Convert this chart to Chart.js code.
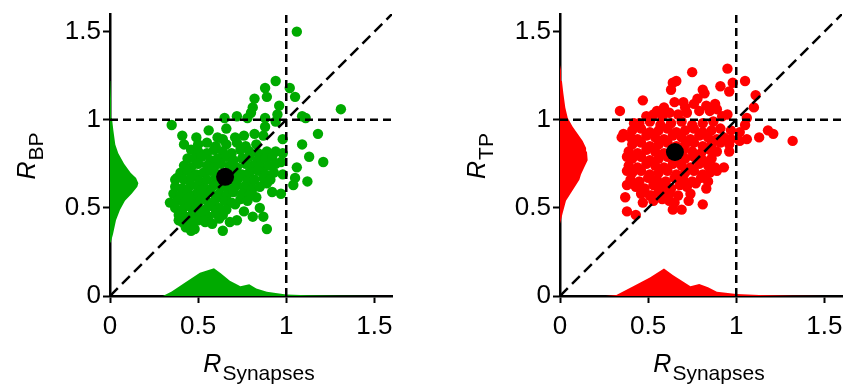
<!DOCTYPE html>
<html>
<head>
<meta charset="utf-8">
<title>R ratios vs synapses</title>
<script src="https://cdn.jsdelivr.net/npm/chart.js@4.4.0/dist/chart.umd.min.js"></script>
<style>
    html, body { margin: 0; padding: 0; background: #fff; }
    #wrap { position: relative; width: 852px; height: 389px; overflow: hidden; }
    canvas { position: absolute; top: 0; }
    #bpChart { left: 0; }
    #tpChart { left: 450px; }
</style>
</head>
<body>
<div id="wrap">
    <canvas id="bpChart" width="450" height="389"></canvas>
    <canvas id="tpChart" width="402" height="389"></canvas>
</div>
<script>
// axes
const AXIS_TICKS = [0, 0.5, 1, 1.5];
const AXIS_MAX = 1.6;
const X_TITLE_SUB = 'Synapses';

// reference lines (x, y)
const UNITY_H = [[0, 1], [1.6, 1]];
const UNITY_V = [[1, 0], [1, 1.6]];
const DIAGONAL = [[0, 0], [1.6, 1.6]];

// R_BP panel: [R_Synapses, R_BP]
const BP_MEAN = [[0.653, 0.676]];
const BP_POINTS = [
    [1.06, 1.50], [0.94, 1.22], [0.88, 1.18], [0.89, 1.13], [0.82, 1.12], [1.02, 1.18], [1.05, 1.13],
    [0.96, 1.08], [0.81, 1.07], [0.80, 1.04], [1.31, 1.06], [0.72, 1.02], [0.65, 1.01], [0.78, 1.01],
    [0.88, 1.01], [0.95, 1.03], [0.94, 0.99], [1.09, 1.02], [1.11, 1.01], [0.35, 0.97], [0.66, 0.95],
    [0.56, 0.94], [0.88, 0.96], [0.41, 0.91], [0.49, 0.90], [0.61, 0.90], [0.64, 0.89], [0.71, 0.90],
    [0.76, 0.91], [0.82, 0.92], [0.87, 0.91], [1.18, 0.92], [0.98, 0.89], [0.42, 0.86], [1.09, 0.86],
    [0.46, 0.83], [1.13, 0.79], [1.21, 0.76], [0.94, 0.82], [0.98, 0.81], [0.44, 0.78], [0.97, 0.76],
    [1.06, 0.73], [1.05, 0.67], [1.12, 0.65], [1.04, 0.63], [0.98, 0.69], [0.92, 0.59], [0.97, 0.58],
    [0.34, 0.53], [0.37, 0.66], [0.38, 0.67], [0.39, 0.43], [0.46, 0.37], [0.64, 0.37], [0.89, 0.38],
    [0.81, 0.45], [0.87, 0.45], [0.85, 0.50], [0.76, 0.48], [0.72, 0.43], [0.68, 0.42], [0.71, 0.52],
    [0.83, 0.56], [0.81, 0.61], [0.89, 0.64],
    [0.50, 0.86], [0.55, 0.87], [0.60, 0.85], [0.66, 0.86], [0.72, 0.87], [0.77, 0.85], [0.83, 0.86],
    [0.50, 0.82], [0.55, 0.81], [0.59, 0.83], [0.64, 0.82], [0.69, 0.81], [0.74, 0.83], [0.79, 0.82], [0.84, 0.81], [0.89, 0.82],
    [0.48, 0.78], [0.52, 0.79], [0.57, 0.77], [0.61, 0.78], [0.66, 0.79], [0.70, 0.77], [0.75, 0.78], [0.79, 0.79], [0.84, 0.77], [0.88, 0.78], [0.92, 0.79],
    [0.42, 0.74], [0.46, 0.73], [0.50, 0.75], [0.55, 0.74], [0.59, 0.73], [0.63, 0.75], [0.68, 0.74], [0.72, 0.73], [0.77, 0.75], [0.81, 0.74], [0.86, 0.73], [0.90, 0.74], [0.94, 0.75],
    [0.40, 0.70], [0.44, 0.71], [0.49, 0.69], [0.53, 0.70], [0.57, 0.71], [0.62, 0.69], [0.66, 0.70], [0.70, 0.71], [0.75, 0.69], [0.79, 0.70], [0.84, 0.71], [0.88, 0.69], [0.93, 0.70],
    [0.42, 0.66], [0.46, 0.67], [0.51, 0.65], [0.55, 0.66], [0.60, 0.67], [0.64, 0.65], [0.69, 0.66], [0.73, 0.67], [0.78, 0.65], [0.82, 0.66], [0.87, 0.67], [0.91, 0.66],
    [0.37, 0.62], [0.41, 0.61], [0.46, 0.63], [0.50, 0.62], [0.54, 0.61], [0.59, 0.63], [0.63, 0.62], [0.67, 0.61], [0.72, 0.63], [0.76, 0.62], [0.80, 0.60], [0.85, 0.62],
    [0.36, 0.58], [0.40, 0.57], [0.44, 0.59], [0.49, 0.58], [0.53, 0.57], [0.57, 0.59], [0.62, 0.58], [0.66, 0.57], [0.70, 0.59], [0.75, 0.58], [0.79, 0.57],
    [0.38, 0.54], [0.42, 0.53], [0.47, 0.55], [0.51, 0.54], [0.56, 0.53], [0.60, 0.55], [0.65, 0.54], [0.69, 0.53], [0.74, 0.55], [0.78, 0.54],
    [0.37, 0.50], [0.41, 0.49], [0.45, 0.51], [0.49, 0.50], [0.54, 0.49], [0.58, 0.51], [0.62, 0.50], [0.66, 0.49],
    [0.39, 0.46], [0.43, 0.45], [0.47, 0.47], [0.51, 0.46], [0.56, 0.45], [0.60, 0.47], [0.64, 0.46],
    [0.41, 0.42], [0.45, 0.41], [0.50, 0.43], [0.54, 0.42], [0.58, 0.41],
    [0.43, 0.39], [0.48, 0.38], [0.47, 0.43], [0.52, 0.48], [0.45, 0.56], [0.52, 0.60], [0.62, 0.44]
];
// marginal densities, R_BP panel
const BP_XDENS_X = [0.30, 0.35, 0.42, 0.51, 0.59, 0.63, 0.68, 0.74, 0.79, 0.83, 0.89, 0.93, 1.00, 1.12, 1.30, 1.50];
const BP_XDENS_D = [0, 0.025, 0.072, 0.132, 0.158, 0.128, 0.087, 0.056, 0.066, 0.043, 0.024, 0.019, 0.008, 0.004, 0.002, 0];
const BP_YDENS_Y = [0.30, 0.31, 0.35, 0.43, 0.49, 0.54, 0.58, 0.62, 0.64, 0.67, 0.70, 0.75, 0.81, 0.86, 0.94, 1.01, 1.11, 1.22, 1.30];
const BP_YDENS_D = [0, 0.006, 0.017, 0.034, 0.057, 0.085, 0.123, 0.155, 0.161, 0.148, 0.117, 0.080, 0.047, 0.030, 0.019, 0.011, 0.006, 0.002, 0];

// R_TP panel: [R_Synapses, R_TP]
const TP_MEAN = [[0.652, 0.817]];
const TP_POINTS = [
    [0.75, 1.27], [0.95, 1.29], [0.66, 1.22], [0.64, 1.21], [0.63, 1.17], [0.65, 1.10], [0.47, 1.11],
    [0.34, 1.05], [0.49, 1.02], [0.98, 1.21], [1.05, 1.22], [0.91, 1.19], [0.96, 1.16], [0.81, 1.17],
    [0.82, 1.15], [0.78, 1.12], [0.76, 1.09], [0.71, 1.07], [0.59, 1.07], [0.88, 1.09], [0.89, 1.06],
    [0.85, 1.05], [0.95, 1.03], [1.11, 1.14], [1.10, 1.07], [1.06, 1.01], [1.05, 0.97], [1.06, 0.89],
    [1.13, 0.90], [1.18, 0.94], [1.21, 0.92], [1.32, 0.88], [1.02, 0.93], [0.97, 0.94], [0.97, 0.89],
    [0.96, 0.82], [1.02, 0.88], [0.96, 0.86], [0.36, 0.92], [0.35, 0.90], [0.42, 0.98], [0.38, 0.79],
    [0.38, 0.71], [0.38, 0.63], [0.37, 0.56], [0.38, 0.48], [0.43, 0.46], [0.47, 0.53], [0.52, 0.57],
    [0.64, 0.49], [0.69, 0.49], [0.73, 0.54], [0.81, 0.52], [0.83, 0.61], [0.84, 0.65], [0.89, 0.71],
    [0.93, 0.73], [0.77, 0.64], [0.74, 0.58], [0.62, 0.58], [0.65, 0.53],
    [0.53, 1.03], [0.58, 1.02], [0.62, 1.04], [0.67, 1.03], [0.72, 1.04], [0.79, 1.05], [0.83, 1.08],
    [0.70, 1.10], [0.55, 1.05], [0.92, 1.02],
    [0.45, 0.98], [0.51, 0.99], [0.57, 0.97], [0.63, 0.98], [0.69, 0.99], [0.75, 0.97], [0.81, 0.98], [0.87, 0.99],
    [0.41, 0.94], [0.46, 0.95], [0.51, 0.93], [0.56, 0.94], [0.61, 0.95], [0.66, 0.93], [0.71, 0.94], [0.76, 0.95], [0.81, 0.93], [0.86, 0.94], [0.91, 0.95],
    [0.40, 0.90], [0.44, 0.89], [0.49, 0.91], [0.54, 0.90], [0.59, 0.89], [0.64, 0.91], [0.69, 0.90], [0.74, 0.89], [0.79, 0.91], [0.84, 0.90], [0.89, 0.89], [0.93, 0.90],
    [0.41, 0.86], [0.46, 0.87], [0.51, 0.85], [0.56, 0.86], [0.61, 0.87], [0.66, 0.85], [0.71, 0.86], [0.76, 0.87], [0.81, 0.85], [0.86, 0.86], [0.91, 0.87],
    [0.39, 0.82], [0.44, 0.81], [0.49, 0.83], [0.54, 0.82], [0.59, 0.81], [0.70, 0.83], [0.75, 0.82], [0.80, 0.81], [0.85, 0.83], [0.89, 0.82],
    [0.41, 0.78], [0.46, 0.79], [0.51, 0.77], [0.56, 0.78], [0.61, 0.79], [0.66, 0.77], [0.71, 0.78], [0.76, 0.79], [0.81, 0.77], [0.86, 0.78],
    [0.39, 0.74], [0.44, 0.73], [0.49, 0.75], [0.54, 0.74], [0.59, 0.73], [0.64, 0.75], [0.69, 0.74], [0.74, 0.73], [0.79, 0.75], [0.84, 0.74], [0.88, 0.73],
    [0.41, 0.70], [0.46, 0.71], [0.51, 0.69], [0.56, 0.70], [0.61, 0.71], [0.66, 0.69], [0.71, 0.70], [0.76, 0.71], [0.81, 0.69], [0.85, 0.70],
    [0.40, 0.66], [0.45, 0.65], [0.50, 0.67], [0.55, 0.66], [0.60, 0.65], [0.65, 0.67], [0.70, 0.66], [0.75, 0.65], [0.80, 0.67],
    [0.43, 0.62], [0.48, 0.61], [0.53, 0.63], [0.58, 0.62], [0.63, 0.61], [0.68, 0.63], [0.72, 0.62],
    [0.46, 0.58], [0.51, 0.57], [0.56, 0.59], [0.60, 0.58], [0.67, 0.57],
    [0.53, 0.54], [0.58, 0.55], [0.62, 0.54]
];
// marginal densities, R_TP panel
const TP_XDENS_X = [0.26, 0.32, 0.41, 0.51, 0.59, 0.64, 0.70, 0.74, 0.79, 0.84, 0.89, 0.94, 1.00, 1.13, 1.32, 1.50];
const TP_XDENS_D = [0, 0.006, 0.053, 0.105, 0.156, 0.119, 0.081, 0.056, 0.068, 0.049, 0.024, 0.019, 0.011, 0.005, 0.002, 0];
const TP_YDENS_Y = [0.41, 0.47, 0.54, 0.60, 0.66, 0.69, 0.73, 0.77, 0.82, 0.84, 0.88, 0.92, 0.96, 1.01, 1.07, 1.15, 1.22, 1.28, 1.31];
const TP_YDENS_D = [0, 0.015, 0.034, 0.072, 0.110, 0.119, 0.138, 0.157, 0.153, 0.148, 0.129, 0.100, 0.072, 0.044, 0.030, 0.019, 0.011, 0.006, 0];

const FONT = '"Liberation Sans", Arial, Helvetica, sans-serif';
Chart.defaults.font.family = FONT;
Chart.defaults.color = '#000';

const toPoints = pairs => pairs.map(([x, y]) => ({ x, y }));
const zipPoints = (xs, ys) => xs.map((x, i) => ({ x, y: ys[i] }));

// italic R with an upright subscript, for both axes
const axisTitlePlugin = {
    id: 'axisTitles',
    afterDraw(chart, args, opts) {
        const { ctx, chartArea } = chart;
        const drawLabel = (sub, cx, baseline) => {
            ctx.font = 'italic 25px ' + FONT;
            const wR = ctx.measureText('R').width;
            ctx.font = '21px ' + FONT;
            const wS = ctx.measureText(sub).width;
            const start = cx - (wR + wS + 1) / 2;
            ctx.font = 'italic 25px ' + FONT;
            ctx.fillText('R', start, baseline);
            ctx.font = '21px ' + FONT;
            ctx.fillText(sub, start + wR + 1, baseline + 8);
        };
        ctx.save();
        ctx.fillStyle = '#000';
        ctx.textAlign = 'left';
        ctx.textBaseline = 'alphabetic';
        drawLabel(opts.x, (chartArea.left + chartArea.right) / 2 + 8, chartArea.bottom + 76);
        ctx.translate(chartArea.left - 75, (chartArea.top + chartArea.bottom) / 2 + 1);
        ctx.rotate(-Math.PI / 2);
        drawLabel(opts.y, 0, 0);
        ctx.restore();
    }
};

function linearAxis(isX) {
    return {
        type: 'linear',
        min: 0,
        max: AXIS_MAX,
        afterBuildTicks: s => { s.ticks = AXIS_TICKS.map(v => ({ value: v })); },
        afterFit: s => {
            if (isX) { s.height = 93; s.paddingLeft = 0; s.paddingRight = 0; }
            else { s.width = 110; s.paddingTop = 0; s.paddingBottom = 0; }
        },
        ticks: { color: '#000', font: { size: 26 }, padding: isX ? 8 : 2, callback: v => String(v) },
        grid: { drawOnChartArea: false, drawTicks: true, tickLength: 7, tickWidth: 2, tickColor: '#000' },
        border: { display: true, color: '#000', width: 2.5 }
    };
}

function dashed(pairs, dash) {
    return {
        type: 'line', data: toPoints(pairs), borderColor: '#000', borderWidth: 2.5,
        borderDash: dash, pointRadius: 0, fill: false, order: 1
    };
}

function makePanel(id, color, points, mean, xDens, yDens, ySub, rightPad) {
    return new Chart(document.getElementById(id), {
        type: 'scatter',
        data: {
            datasets: [
                { type: 'scatter', data: toPoints(mean), pointRadius: 9, backgroundColor: '#000', borderWidth: 0, order: 0 },
                dashed(UNITY_H, [8, 5]),
                dashed(UNITY_V, [8, 5]),
                dashed(DIAGONAL, [11, 6]),
                { type: 'scatter', data: toPoints(points), pointRadius: 5.2, backgroundColor: color, borderWidth: 0, order: 2 },
                {
                    type: 'line', data: xDens, fill: 'origin', backgroundColor: color,
                    borderWidth: 0, pointRadius: 0, tension: 0, order: 3
                },
                {
                    type: 'line', indexAxis: 'y', data: yDens, fill: 'origin', backgroundColor: color,
                    borderWidth: 0, pointRadius: 0, tension: 0, order: 3
                }
            ]
        },
        options: {
            responsive: false,
            animation: false,
            events: [],
            layout: { padding: { left: 0, right: rightPad, top: 14, bottom: 0 } },
            scales: { x: linearAxis(true), y: linearAxis(false) },
            plugins: {
                legend: { display: false },
                tooltip: { enabled: false },
                axisTitles: { x: X_TITLE_SUB, y: ySub }
            }
        },
        plugins: [axisTitlePlugin]
    });
}

makePanel('bpChart', '#00aa00', BP_POINTS, BP_MEAN,
    zipPoints(BP_XDENS_X, BP_XDENS_D), zipPoints(BP_YDENS_D, BP_YDENS_Y), 'BP', 58);
makePanel('tpChart', '#ff0000', TP_POINTS, TP_MEAN,
    zipPoints(TP_XDENS_X, TP_XDENS_D), zipPoints(TP_YDENS_D, TP_YDENS_Y), 'TP', 10);
</script>
</body>
</html>
